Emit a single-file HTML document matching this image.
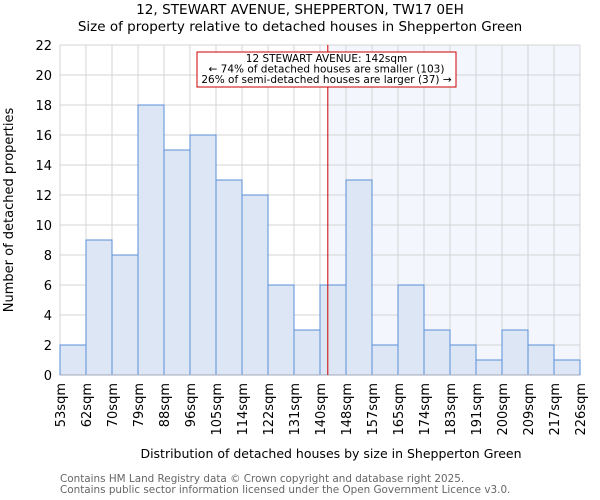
<!DOCTYPE html>
<html><head><meta charset="utf-8"><style>
body{margin:0;background:#fff;}
svg{display:block;font-family:"DejaVu Sans","Liberation Sans",sans-serif;}
</style></head><body>
<svg id="chart" width="600" height="500" xmlns="http://www.w3.org/2000/svg">
<text x="300" y="14" text-anchor="middle" font-size="13.6">12, STEWART AVENUE, SHEPPERTON, TW17 0EH</text>
<text x="300" y="31" text-anchor="middle" font-size="13.5">Size of property relative to detached houses in Shepperton Green</text>
<g id="plot"></g>
<text x="331" y="458" text-anchor="middle" font-size="12.5">Distribution of detached houses by size in Shepperton Green</text>
<text transform="translate(13,210) rotate(-90)" text-anchor="middle" font-size="13">Number of detached properties</text>
<text x="60" y="482" font-size="10.4" fill="#666">Contains HM Land Registry data © Crown copyright and database right 2025.</text>
<text x="60" y="493" font-size="10.4" fill="#666">Contains public sector information licensed under the Open Government Licence v3.0.</text>
</svg>
<script>
const categories=["53sqm","62sqm","70sqm","79sqm","88sqm","96sqm","105sqm","114sqm","122sqm","131sqm","140sqm","148sqm","157sqm","165sqm","174sqm","183sqm","191sqm","200sqm","209sqm","217sqm","226sqm"];
const counts=[2,9,8,18,15,16,13,12,6,3,6,13,2,6,3,2,1,3,2,1];
const yTicks=[0,2,4,6,8,10,12,14,16,18,20,22];
const markerBin=10.3;
const NS="http://www.w3.org/2000/svg";
const g=document.getElementById('plot');
const X0=60,X1=580,Y0=375,Y1=45,YMAX=22;
const bw=(X1-X0)/counts.length;
const xs=i=>X0+i*bw;
const ys=v=>Y0-(v/YMAX)*(Y0-Y1);
function mk(t,a){const e=document.createElementNS(NS,t);for(const k in a)e.setAttribute(k,a[k]);g.appendChild(e);return e;}
let e;
const mx=xs(markerBin);
e=mk('rect',{x:mx,y:Y1,width:X1-mx,height:Y0-Y1,fill:'#f3f6fd'});


yTicks.forEach(t=>{
 e=mk('line',{x1:X0,x2:X1,y1:ys(t),y2:ys(t),stroke:'#d4d4d4','stroke-width':1});
 
 
 e=mk('text',{x:X0-8,y:ys(t)+5,'text-anchor':'end','font-size':13});
 e.textContent=t;
 
 
});
categories.forEach((c,i)=>{
 e=mk('line',{x1:xs(i),x2:xs(i),y1:Y1,y2:Y0,stroke:'#d4d4d4','stroke-width':1});
 
 
 e=mk('text',{transform:`translate(${xs(i)+5},${Y0+8}) rotate(-90)`,'text-anchor':'end','font-size':13});
 e.textContent=c;
 
 
});
counts.forEach((v,i)=>{
 e=mk('rect',{x:xs(i),y:ys(v),width:bw,height:Y0-ys(v),fill:'#dce6f4',stroke:'#5b8fd8','stroke-width':1});
 
 
});
e=mk('line',{x1:X0,x2:X1,y1:Y0,y2:Y0,stroke:'#a0a8b8','stroke-width':1});


e=mk('line',{x1:mx,x2:mx,y1:Y1,y2:Y0,stroke:'#cc0000','stroke-width':1});


e=mk('rect',{x:197,y:52,width:259,height:35,fill:'#fff',stroke:'#cc0000','stroke-width':1});


["12 STEWART AVENUE: 142sqm","← 74% of detached houses are smaller (103)","26% of semi-detached houses are larger (37) →"].forEach((t,i)=>{
 e=mk('text',{x:326.5,y:62+i*10.5,'text-anchor':'middle','font-size':10.5});
 e.textContent=t;
 
 
});
</script>
</body></html>
